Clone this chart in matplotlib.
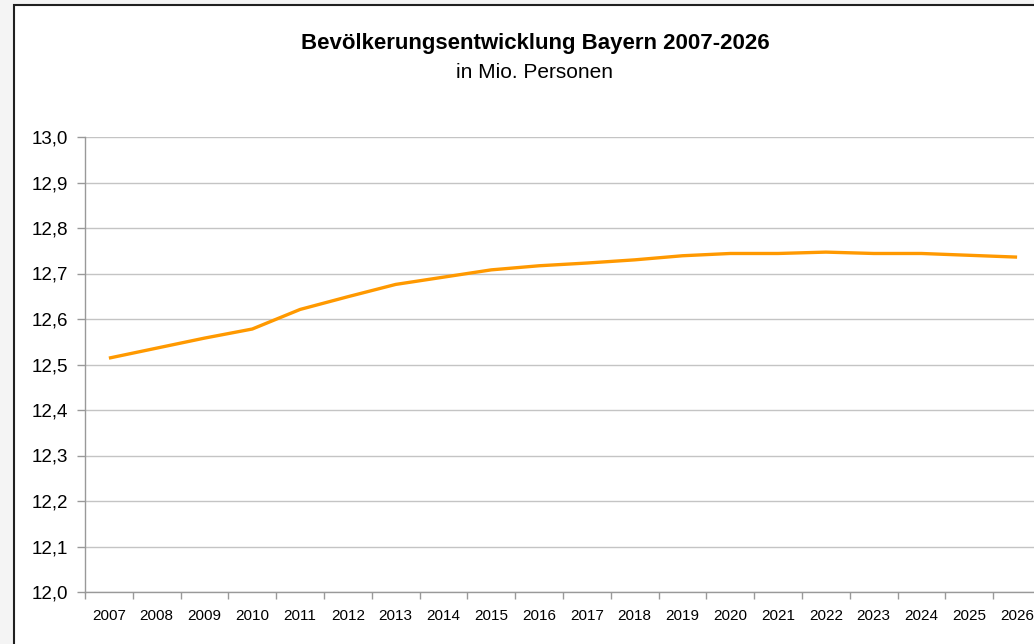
import matplotlib
matplotlib.use("Agg")
import numpy as np
from matplotlib import pyplot as plt
from matplotlib.patches import Rectangle
from matplotlib.ticker import FixedLocator, FuncFormatter

plt.rcParams['font.family'] = ['Liberation Sans', 'DejaVu Sans']

# Daten (Mio. Personen)
jahre = [str(j) for j in range(2007, 2027)]
bevoelkerung = [12.514, 12.536, 12.558, 12.578, 12.621, 12.649, 12.676, 12.692,
                12.708, 12.717, 12.723, 12.730, 12.739, 12.744, 12.744, 12.747,
                12.744, 12.744, 12.740, 12.736]
y_ticks = [12.0, 12.1, 12.2, 12.3, 12.4, 12.5, 12.6, 12.7, 12.8, 12.9, 13.0]

W, H = 1034, 644
fig = plt.figure(figsize=(W / 100, H / 100), dpi=100)
fig.patch.set_facecolor('#f4f4f4')

# weisser Rahmen um das Diagramm
fig.patches.append(Rectangle((14 / W, -0.05), 1.1, 1 - 5 / H + 0.05,
                             transform=fig.transFigure, facecolor='white',
                             edgecolor='#202020', linewidth=1.5, zorder=-10))

ax = fig.add_axes([85 / W, 1 - 592 / H, (1041 - 85) / W, (592 - 137) / H])
ax.set_facecolor('white')

x = np.arange(len(jahre))
ax.plot(x, bevoelkerung, color='#ff9900', linewidth=2.4, solid_capstyle='butt', zorder=3)

ax.set_xlim(-0.5, len(jahre) - 0.5)
ax.set_ylim(12.0, 13.0)

ax.set_yticks(y_ticks)
ax.yaxis.set_major_formatter(FuncFormatter(lambda v, p: f"{v:.1f}".replace('.', ',')))
ax.grid(axis='y', color='#c4c4c4', linewidth=1.0)
ax.set_axisbelow(True)

ax.set_xticks(x)
ax.set_xticklabels(jahre)
ax.xaxis.set_minor_locator(FixedLocator(np.arange(-0.5, len(jahre), 1.0)))
ax.tick_params(axis='x', which='major', length=0, pad=12, labelsize=11, colors='black')
ax.tick_params(axis='x', which='minor', length=5, color='#999999', width=1)
ax.tick_params(axis='y', length=6, color='#999999', width=1, labelsize=13.5, pad=6)

for s in ['top', 'right']:
    ax.spines[s].set_visible(False)
for s in ['left', 'bottom']:
    ax.spines[s].set_color('#999999')
    ax.spines[s].set_linewidth(1.0)

fig.text(535 / W, 1 - 43 / H, 'Bevölkerungsentwicklung Bayern 2007-2026',
         ha='center', va='center', fontsize=16, fontweight='bold')
fig.text(534 / W, 1 - 73 / H, 'in Mio. Personen', ha='center', va='center', fontsize=15)

fig.savefig('out.png', dpi=100, facecolor=fig.get_facecolor())
